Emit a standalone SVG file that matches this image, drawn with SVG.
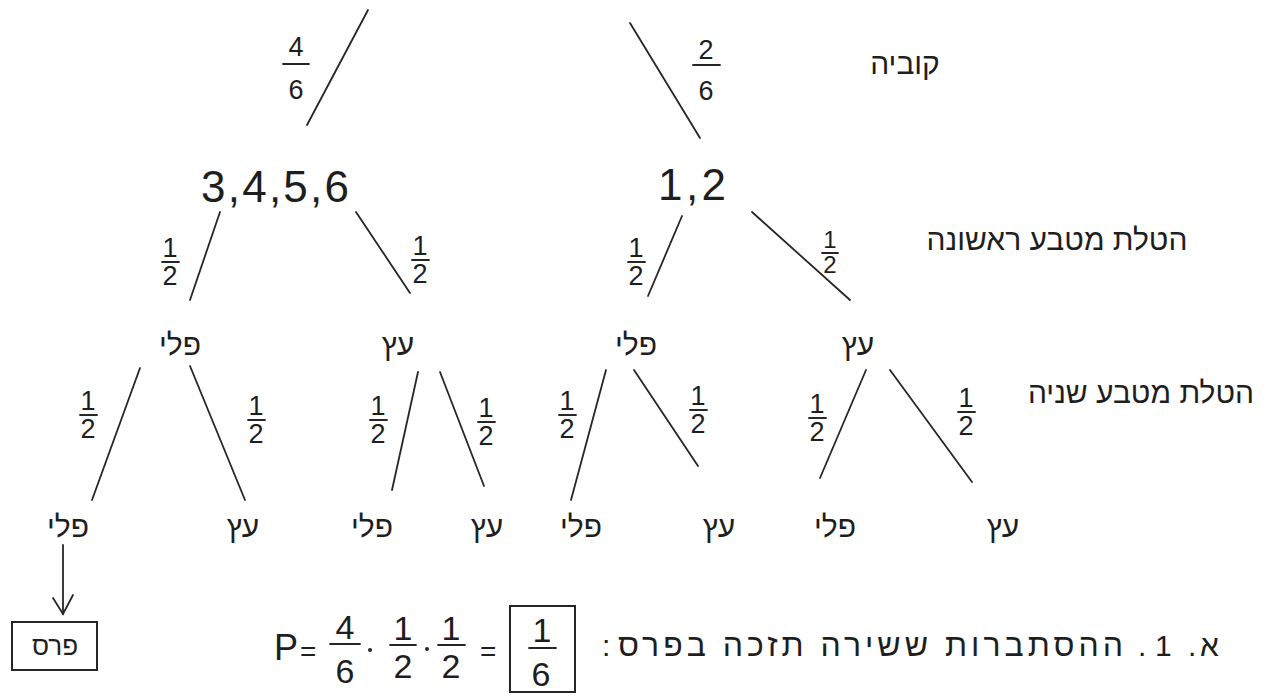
<svg xmlns="http://www.w3.org/2000/svg" width="1278" height="697" viewBox="0 0 1278 697">
<style>
.ln{stroke:#262626;stroke-width:1.8;fill:none;stroke-linecap:round}
.t{font-family:'Liberation Sans','DejaVu Sans',sans-serif;fill:#1e1e1e}
.heb{font-family:'Liberation Sans','DejaVu Sans',sans-serif;fill:#1e1e1e;font-size:30px;text-anchor:middle}
.num{font-family:'Liberation Sans',sans-serif;fill:#1e1e1e;font-size:44px}
.fr{font-family:'Liberation Sans',sans-serif;fill:#1e1e1e;font-size:27px;text-anchor:middle}
.frb{font-family:'Liberation Sans',sans-serif;fill:#1e1e1e;font-size:34px;text-anchor:middle}
.bar{stroke:#262626;stroke-width:1.8;stroke-linecap:round}
</style>
<rect width="1278" height="697" fill="#ffffff"/>

<g id="connectors">
  <line class="ln" x1="368" y1="10" x2="307" y2="125"/>
  <line class="ln" x1="630" y1="23" x2="700" y2="138"/>
  <line class="ln" x1="220" y1="212" x2="190" y2="300"/>
  <line class="ln" x1="356" y1="212" x2="410" y2="293"/>
  <line class="ln" x1="682" y1="216" x2="648" y2="296"/>
  <line class="ln" x1="752" y1="212" x2="850" y2="300"/>
  <line class="ln" x1="140" y1="368" x2="92" y2="500"/>
  <line class="ln" x1="190" y1="366" x2="245" y2="500"/>
  <line class="ln" x1="418" y1="372" x2="392" y2="490"/>
  <line class="ln" x1="440" y1="372" x2="484" y2="486"/>
  <line class="ln" x1="606" y1="370" x2="571" y2="500"/>
  <line class="ln" x1="634" y1="370" x2="698" y2="466"/>
  <line class="ln" x1="866" y1="370" x2="820" y2="478"/>
  <line class="ln" x1="890" y1="370" x2="972" y2="482"/>
  <line class="ln" x1="63" y1="545" x2="63" y2="614"/>
  <polyline class="ln" points="53,598 63,614 73,595"/>
</g>

<g id="branch-labels">
  <g id="p-4-6"><text class="fr" x="296" y="56">4</text><line class="bar" x1="283" y1="64" x2="309" y2="64"/><text class="fr" x="296" y="99">6</text></g>
  <g id="p-2-6"><text class="fr" x="706" y="59">2</text><line class="bar" x1="693" y1="65" x2="720" y2="65"/><text class="fr" x="706" y="100">6</text></g>
  <g><text class="fr" x="170" y="257">1</text><line class="bar" x1="162" y1="262" x2="179" y2="262"/><text class="fr" x="170" y="285">2</text></g>
  <g><text class="fr" x="420" y="255">1</text><line class="bar" x1="412" y1="260" x2="429" y2="260"/><text class="fr" x="420" y="283">2</text></g>
  <g><text class="fr" x="636" y="257">1</text><line class="bar" x1="628" y1="262" x2="645" y2="262"/><text class="fr" x="636" y="285">2</text></g>
  <g><text class="fr" x="830" y="248" style="font-size:24px">1</text><line class="bar" x1="822" y1="253" x2="838" y2="253"/><text class="fr" x="830" y="273" style="font-size:24px">2</text></g>
  <g><text class="fr" x="88" y="410">1</text><line class="bar" x1="80" y1="415" x2="97" y2="415"/><text class="fr" x="88" y="438">2</text></g>
  <g><text class="fr" x="256" y="415">1</text><line class="bar" x1="248" y1="420" x2="265" y2="420"/><text class="fr" x="256" y="443">2</text></g>
  <g><text class="fr" x="378" y="415">1</text><line class="bar" x1="370" y1="420" x2="387" y2="420"/><text class="fr" x="378" y="443">2</text></g>
  <g><text class="fr" x="486" y="417">1</text><line class="bar" x1="478" y1="422" x2="495" y2="422"/><text class="fr" x="486" y="445">2</text></g>
  <g><text class="fr" x="567" y="410">1</text><line class="bar" x1="559" y1="415" x2="576" y2="415"/><text class="fr" x="567" y="438">2</text></g>
  <g><text class="fr" x="698" y="405">1</text><line class="bar" x1="690" y1="410" x2="707" y2="410"/><text class="fr" x="698" y="433">2</text></g>
  <g><text class="fr" x="817" y="413">1</text><line class="bar" x1="809" y1="418" x2="826" y2="418"/><text class="fr" x="817" y="441">2</text></g>
  <g><text class="fr" x="966" y="407">1</text><line class="bar" x1="958" y1="412" x2="975" y2="412"/><text class="fr" x="966" y="435">2</text></g>
</g>

<g id="row-titles">
  <text class="heb" x="905" y="74">קוביה</text>
  <text class="heb" x="1057" y="250">הטלת מטבע ראשונה</text>
  <text class="heb" x="1141" y="403">הטלת מטבע שניה</text>
</g>

<g id="n-3456"><text class="num" x="201" y="202" textLength="148" lengthAdjust="spacing">3,4,5,6</text></g>
<g id="n-12"><text class="num" x="658" y="200" textLength="68" lengthAdjust="spacing">1,2</text></g>

<g id="n-a-peli"><text class="heb" x="180" y="355">פלי</text></g>
<g id="n-a-etz"><text class="heb" x="398" y="355">עץ</text></g>
<g id="n-b-peli"><text class="heb" x="636" y="355">פלי</text></g>
<g id="n-b-etz"><text class="heb" x="858" y="355">עץ</text></g>

<g id="l1"><text class="heb" x="68" y="537">פלי</text></g>
<g id="l2"><text class="heb" x="243" y="537">עץ</text></g>
<g id="l3"><text class="heb" x="372" y="537">פלי</text></g>
<g id="l4"><text class="heb" x="487" y="537">עץ</text></g>
<g id="l5"><text class="heb" x="581" y="537">פלי</text></g>
<g id="l6"><text class="heb" x="719" y="537">עץ</text></g>
<g id="l7"><text class="heb" x="835" y="537">פלי</text></g>
<g id="l8"><text class="heb" x="1003" y="537">עץ</text></g>

<g id="prize">
  <rect x="12" y="622" width="85" height="48" fill="none" stroke="#262626" stroke-width="2"/>
  <text class="heb" x="55" y="655" style="font-size:26px">פרס</text>
</g>

<g id="formula">
  <text class="t" x="274" y="660" style="font-size:36px">P</text>
  <text class="t" x="300" y="661" style="font-size:28px">=</text>
  <text class="frb" x="345" y="639">4</text><line class="bar" x1="330" y1="644" x2="360" y2="644"/><text class="frb" x="345" y="683">6</text>
  <circle cx="370" cy="650" r="2" fill="#262626"/>
  <text class="frb" x="403" y="640">1</text><line class="bar" x1="390" y1="645" x2="416" y2="645"/><text class="frb" x="403" y="678">2</text>
  <circle cx="427" cy="649" r="2" fill="#262626"/>
  <text class="frb" x="451" y="640">1</text><line class="bar" x1="438" y1="645" x2="465" y2="645"/><text class="frb" x="451" y="678">2</text>
  <text class="t" x="480" y="661" style="font-size:28px">=</text>
  <rect x="510" y="606" width="65" height="86" fill="none" stroke="#262626" stroke-width="2"/>
  <text class="frb" x="542" y="642">1</text><line class="bar" x1="529" y1="648" x2="556" y2="648"/><text class="frb" x="541" y="686">6</text>
</g>

<g id="question">
  <text class="t" x="602" y="656" style="font-size:30px">:</text>
  <text class="t" x="618" y="656" style="font-size:32px" direction="rtl" unicode-bidi="bidi-override" text-anchor="end" textLength="505" lengthAdjust="spacing">ההסתברות ששירה תזכה בפרס</text>
  <text class="t" x="1138" y="656" style="font-size:30px">.</text>
  <text class="t" x="1155" y="656" style="font-size:30px">1</text>
  <text class="t" x="1188" y="656" style="font-size:30px">.</text>
  <text class="t" x="1200" y="656" style="font-size:30px">א</text>
</g>
</svg>
